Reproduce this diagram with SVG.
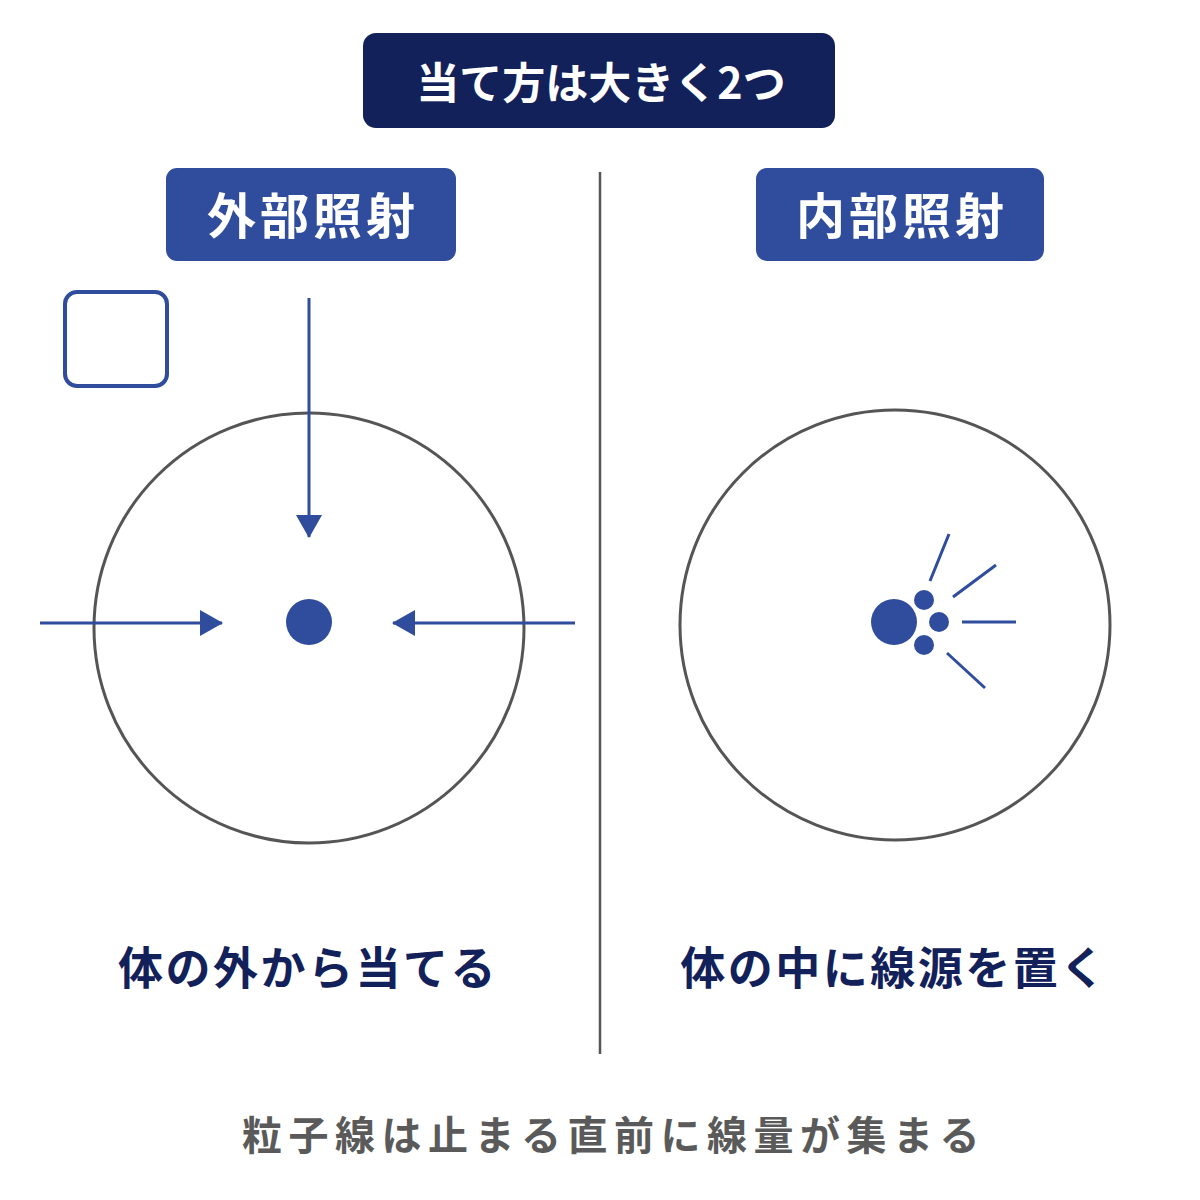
<svg xmlns="http://www.w3.org/2000/svg" width="1200" height="1200" viewBox="0 0 1200 1200">
<defs>
<style>
.t{font-family:"Noto Sans CJK JP","Noto Sans",sans-serif;font-weight:700;text-anchor:middle}
.w{fill:#ffffff}
.lbl{fill:#2f4d9c}
.ring{fill:none;stroke:#555555;stroke-width:3}
.blue{stroke:#2f4d9c;stroke-width:3;fill:none}
.dot{fill:#2f4d9c}
</style>
<marker id="arr" markerWidth="24" markerHeight="26" refX="22" refY="13" orient="auto" markerUnits="userSpaceOnUse">
<path d="M0,0 L23,13 L0,26 Z" fill="#2f4d9c"/>
</marker>
</defs>
<rect width="1200" height="1200" fill="#ffffff"/>
<g id="title">
<rect x="363" y="33" width="472" height="95" rx="13" fill="#13215a"/>
<text class="t w" x="601" y="99" font-size="43">当て方は大きく2つ</text>
</g>
<g id="external-label">
<rect x="166" y="168" width="290" height="93" rx="11" class="lbl"/>
<text class="t w" x="313" y="234" font-size="49" letter-spacing="4">外部照射</text>
</g>
<g id="internal-label">
<rect x="756" y="168" width="288" height="93" rx="11" class="lbl"/>
<text class="t w" x="902" y="234" font-size="49" letter-spacing="4">内部照射</text>
</g>
<g id="divider">
<line x1="600" y1="172" x2="600" y2="1054" stroke="#555555" stroke-width="2.5"/>
</g>
<g id="small-square">
<rect x="65" y="292" width="102" height="94" rx="12" fill="none" stroke="#2f4d9c" stroke-width="4"/>
</g>
<g id="left-body">
<circle class="ring" cx="309" cy="628" r="215"/>
<circle class="dot" cx="309" cy="622" r="23"/>
</g>
<g id="right-body">
<circle class="ring" cx="895" cy="625" r="215"/>
<circle class="dot" cx="894" cy="622" r="23"/>
<circle class="dot" cx="924" cy="600" r="10"/>
<circle class="dot" cx="939" cy="622" r="10"/>
<circle class="dot" cx="924" cy="645" r="10"/>
</g>
<g id="connectors">
<line class="blue" x1="309" y1="298" x2="309" y2="537" marker-end="url(#arr)"/>
<line class="blue" x1="40" y1="623" x2="222" y2="623" marker-end="url(#arr)"/>
<line class="blue" x1="575" y1="623" x2="393" y2="623" marker-end="url(#arr)"/>
<line class="blue" x1="930" y1="581" x2="949" y2="534"/>
<line class="blue" x1="953" y1="597" x2="996" y2="565"/>
<line class="blue" x1="962" y1="622" x2="1016" y2="622"/>
<line class="blue" x1="947" y1="653" x2="985" y2="688"/>
</g>
<g id="captions">
<text class="t" x="308" y="985" font-size="45" fill="#13215a" letter-spacing="2.5">体の外から当てる</text>
<text class="t" x="894" y="985" font-size="45" fill="#13215a" letter-spacing="2.5">体の中に線源を置く</text>
<text class="t" x="614" y="1150" font-size="40" fill="#5a5a5a" letter-spacing="6.5">粒子線は止まる直前に線量が集まる</text>
</g>
</svg>
